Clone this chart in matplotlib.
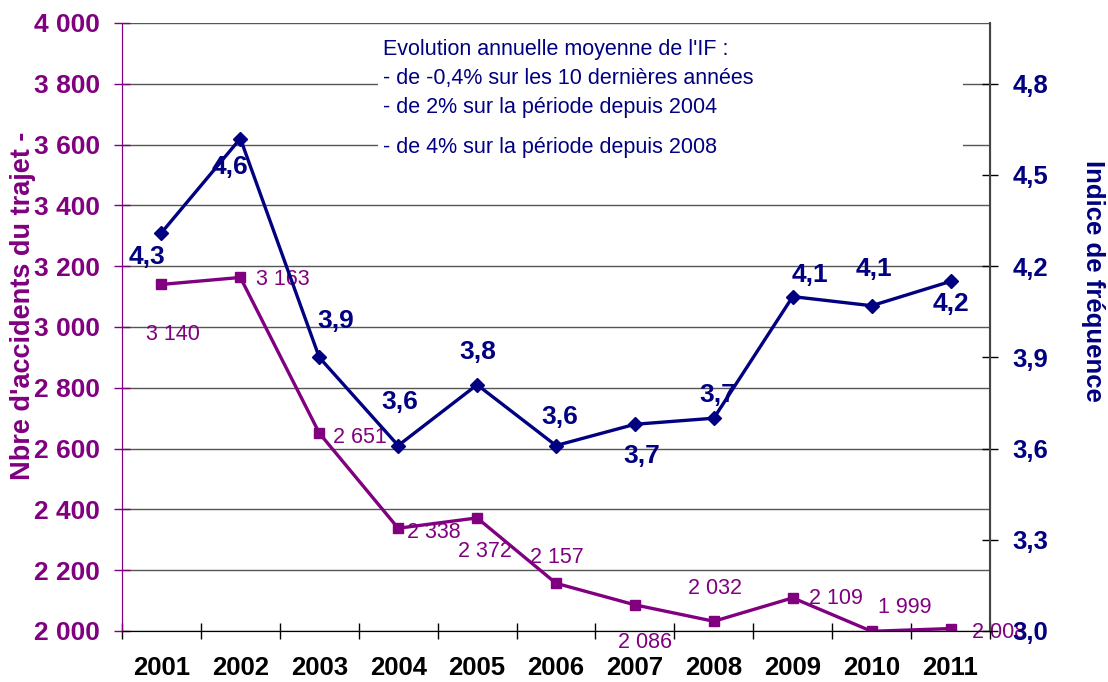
import matplotlib
matplotlib.use("Agg")
import matplotlib.pyplot as plt
from matplotlib.patches import Rectangle

# data
years = ["2001", "2002", "2003", "2004", "2005", "2006", "2007", "2008", "2009", "2010", "2011"]
accidents = [3140, 3163, 2651, 2338, 2372, 2157, 2086, 2032, 2109, 1999, 2008]
indice = [4.31, 4.62, 3.90, 3.61, 3.81, 3.61, 3.68, 3.70, 4.10, 4.07, 4.15]
indice_labels = ["4,3", "4,6", "3,9", "3,6", "3,8", "3,6", "3,7", "3,7", "4,1", "4,1", "4,2"]
note_lines = ["Evolution annuelle moyenne de l'IF :",
              "- de -0,4% sur les 10 dernières années",
              "- de 2% sur la période depuis 2004"]
note_last = "- de 4% sur la période depuis 2008"

PURPLE = "#800080"
NAVY = "#000080"
plt.rcParams['font.family'] = ['Liberation Sans', 'DejaVu Sans']

# label offsets in pixels (dx, dy up)
acc_off = [(11, -50), (42, -2), (41, -4), (36, -4), (8, -34), (1, 26),
           (10, -38), (1, 33), (43, -1), (33, 24), (49, -4)]
ind_off = [(-14, -24), (-10, -28), (16, 36), (2, 44), (1, 33), (4, 29),
           (7, -32), (4, 23), (17, 22), (2, 37), (0, -23)]

fig = plt.figure(figsize=(11.08, 6.82), dpi=100)
ax = fig.add_axes([122/1108, 1 - 631/682, 868/1108, 608/682])
ax2 = ax.twinx()

x = list(range(len(years)))

ax.plot(x, accidents, color=PURPLE, lw=2.4, marker='s', ms=7.5, zorder=3)
ax.set_ylim(2000, 4000)
ax.set_xlim(-0.5, 10.5)
ax.set_yticks(range(2000, 4001, 200))
ax.set_yticklabels([f"{v:,}".replace(",", " ") for v in range(2000, 4001, 200)])
ax.yaxis.grid(True, color='#555555', lw=1)
ax.set_axisbelow(True)
ax.tick_params(axis='y', colors=PURPLE, direction='inout', length=12, width=1, pad=10,
               labelsize=19)
for lab in ax.get_yticklabels():
    lab.set_fontweight('bold')

ax.set_xticks(x)
ax.set_xticklabels(years, fontsize=18.5, fontweight='bold')
ax.tick_params(axis='x', which='major', length=0, pad=18)
ax.set_xticks([i - 0.5 for i in range(len(years) + 1)], minor=True)
ax.tick_params(axis='x', which='minor', direction='inout', length=12, width=1, color='black')

for i, v in enumerate(accidents):
    dx, dy = acc_off[i]
    ax.annotate(f"{v:,}".replace(",", " "), (i, v), xytext=(dx, dy), textcoords='offset pixels',
                ha='center', va='center', color=PURPLE, fontsize=15.5, zorder=5,
                annotation_clip=False)

ax2.plot(x, indice, color=NAVY, lw=2.4, marker='D', ms=7.5, zorder=3)
ax2.set_ylim(3.0, 5.0)
ax2.set_yticks([3.0, 3.3, 3.6, 3.9, 4.2, 4.5, 4.8])
ax2.set_yticklabels([f"{v:.1f}".replace(".", ",") for v in [3.0, 3.3, 3.6, 3.9, 4.2, 4.5, 4.8]])
ax2.tick_params(axis='y', colors='black', direction='inout', length=12, width=1, pad=10,
                labelsize=18.5, labelcolor=NAVY)
for lab in ax2.get_yticklabels():
    lab.set_fontweight('bold')

for i, v in enumerate(indice):
    dx, dy = ind_off[i]
    ax2.annotate(indice_labels[i], (i, v), xytext=(dx, dy), textcoords='offset pixels',
                 ha='center', va='center', color=NAVY, fontsize=19, fontweight='bold',
                 zorder=5)

for a in (ax, ax2):
    a.spines['top'].set_visible(False)
    a.spines['left'].set_color(PURPLE)
    a.spines['right'].set_color('#444444')
    a.spines['bottom'].set_color('black')
ax2.spines['right'].set_linewidth(1.5)

# white box behind the note
ax2.add_patch(Rectangle(((378 - 122)/868, (631 - 162)/608), (963 - 378)/868, (162 - 32)/608,
                        transform=ax2.transAxes, facecolor='white', edgecolor='none', zorder=1))
for k, line in enumerate(note_lines):
    fig.text(383/1108, 1 - (50 + 28.5*k)/682, line, ha='left', va='center',
             color=NAVY, fontsize=15.5)
fig.text(383/1108, 1 - 147/682, note_last, ha='left', va='center', color=NAVY, fontsize=15.5)

fig.text(23/1108, 1 - 306/682, "Nbre d'accidents du trajet -", rotation=90, ha='center',
         va='center', color=PURPLE, fontsize=19.5, fontweight='bold')
fig.text(1093/1108, 1 - 281/682, "Indice de fréquence", rotation=-90, ha='center',
         va='center', color=NAVY, fontsize=18.5, fontweight='bold')

fig.savefig("out.png", dpi=100)
